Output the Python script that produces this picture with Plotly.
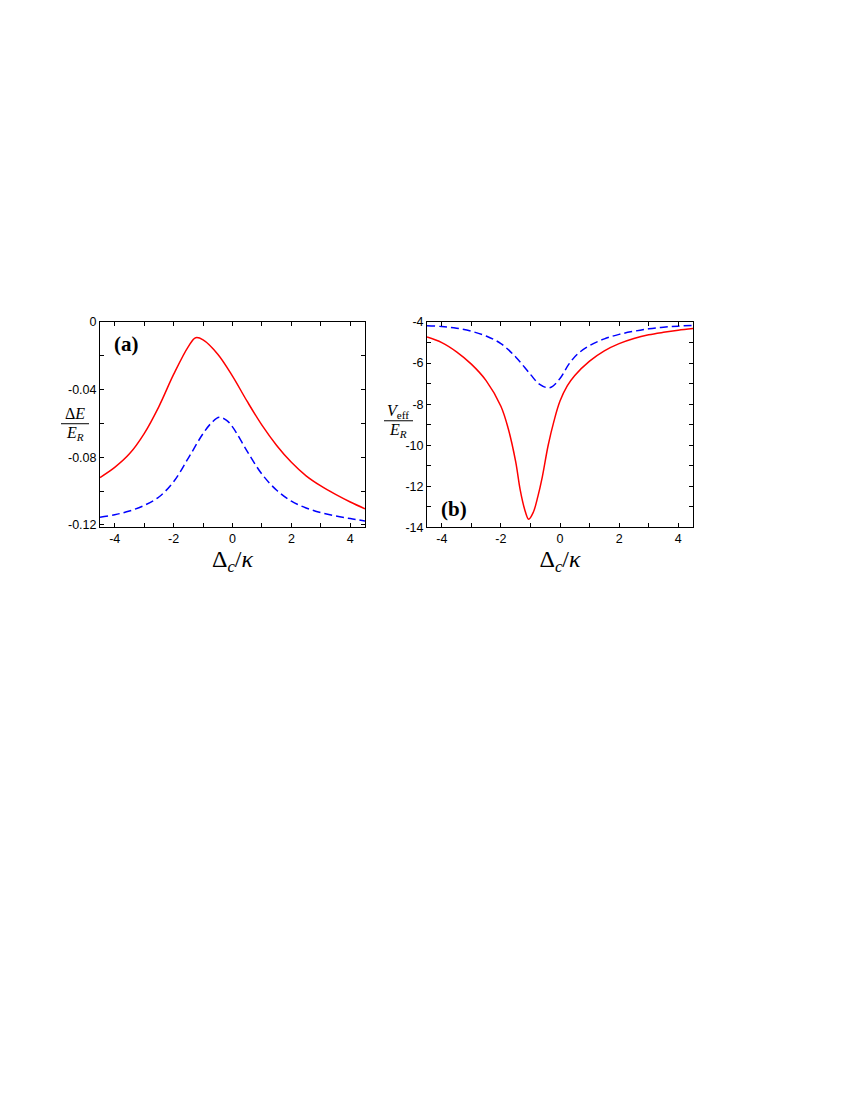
import plotly.graph_objects as go

# ---- Panel (a): Delta E / E_R ----
a_red_x = [-4.5, -4.0, -3.5, -3.0, -2.5, -2.0, -1.5, -1.25, -1.0, -0.5, 0.0, 0.5, 1.0, 1.5, 2.0, 2.5, 3.0, 3.5, 4.0, 4.5]
a_red_y = [-0.092, -0.086, -0.078, -0.066, -0.050, -0.031, -0.0145, -0.0093, -0.0105, -0.019, -0.032, -0.047, -0.061, -0.073, -0.083, -0.091, -0.097, -0.102, -0.1065, -0.1105]
a_blue_x = [-4.5, -4.0, -3.5, -3.0, -2.5, -2.0, -1.5, -1.0, -0.7, -0.45, -0.2, 0.0, 0.5, 1.0, 1.5, 2.0, 2.5, 3.0, 3.5, 4.0, 4.5]
a_blue_y = [-0.1155, -0.1140, -0.1118, -0.1085, -0.1035, -0.0945, -0.0805, -0.0660, -0.0594, -0.0563, -0.0582, -0.0620, -0.0765, -0.0900, -0.0995, -0.1060, -0.1100, -0.1128, -0.1147, -0.1163, -0.1177]

# ---- Panel (b): V_eff / E_R ----
b_red_x = [-4.5, -4.0, -3.5, -3.0, -2.5, -2.0, -1.75, -1.5, -1.35, -1.2, -1.06, -0.9, -0.75, -0.6, -0.4, -0.2, 0.0, 0.25, 0.5, 1.0, 1.5, 2.0, 2.5, 3.0, 3.5, 4.0, 4.5]
b_red_y = [-4.73, -5.0, -5.45, -6.05, -6.85, -8.1, -9.2, -10.8, -12.15, -13.1, -13.6, -13.25, -12.5, -11.55, -10.0, -8.8, -7.85, -7.1, -6.6, -5.9, -5.4, -5.05, -4.8, -4.62, -4.5, -4.4, -4.32]
b_blue_x = [-4.5, -4.0, -3.5, -3.0, -2.5, -2.0, -1.5, -1.0, -0.7, -0.35, 0.0, 0.3, 0.6, 1.0, 1.5, 2.0, 2.5, 3.0, 3.5, 4.0, 4.5]
b_blue_y = [-4.18, -4.22, -4.3, -4.45, -4.68, -5.05, -5.7, -6.55, -7.02, -7.2, -6.75, -6.05, -5.55, -5.15, -4.82, -4.6, -4.45, -4.33, -4.25, -4.2, -4.16]

x_tickvals = [-4, -2, 0, 2, 4]
x_ticktext = ["-4", "-2", "0", "2", "4"]
a_tickvals = [0, -0.04, -0.08, -0.12]
a_ticktext = ["0", "-0.04", "-0.08", "-0.12"]
b_tickvals = [-4, -6, -8, -10, -12, -14]
b_ticktext = ["-4", "-6", "-8", "-10", "-12", "-14"]

RED = "#ff0000"
BLUE = "#0000ff"
DASH = "8px,4px"

fig = go.Figure()
fig.add_trace(go.Scatter(x=a_red_x, y=a_red_y, mode="lines", line=dict(color=RED, width=1.5, shape="spline", smoothing=1.0), xaxis="x", yaxis="y"))
fig.add_trace(go.Scatter(x=a_blue_x, y=a_blue_y, mode="lines", line=dict(color=BLUE, width=1.5, dash=DASH, shape="spline", smoothing=1.0), xaxis="x", yaxis="y"))
fig.add_trace(go.Scatter(x=b_red_x, y=b_red_y, mode="lines", line=dict(color=RED, width=1.5, shape="spline", smoothing=1.0), xaxis="x2", yaxis="y2"))
fig.add_trace(go.Scatter(x=b_blue_x, y=b_blue_y, mode="lines", line=dict(color=BLUE, width=1.5, dash=DASH, shape="spline", smoothing=1.0), xaxis="x2", yaxis="y2"))

W, H = 850, 1100
def px(x):
    return x / W
def py(y):
    return 1 - y / H

tickfont = dict(family="Liberation Sans, Arial, sans-serif", size=12.5, color="black")
titlefont = dict(family="Liberation Serif, Times New Roman, serif", size=24, color="black")

common_axis = dict(showline=True, linecolor="black", linewidth=1, mirror="ticks", ticks="inside",
                   ticklen=4, tickcolor="black", tickwidth=1, showgrid=False, zeroline=False,
                   tickfont=tickfont)

def minor(d):
    return dict(dtick=d, ticks="inside", ticklen=4, tickcolor="black", tickwidth=1, showgrid=False)

ytop, ybot = 311, 519
fig.update_layout(
    width=W, height=H, margin=dict(l=0, r=0, t=0, b=0),
    paper_bgcolor="white", plot_bgcolor="white", showlegend=False,
    xaxis=dict(domain=[px(92), px(357)], range=[-4.5, 4.5], tickmode="array", tickvals=x_tickvals, ticktext=x_ticktext,
               minor=minor(1), anchor="y",
               title=dict(text="Δ<sub><i>c</i></sub>/<i>κ</i>", font=titlefont, standoff=2), **common_axis),
    yaxis=dict(domain=[py(ybot), py(ytop)], range=[-0.1215, 0], tickmode="array", tickvals=a_tickvals, ticktext=a_ticktext,
               minor=minor(0.02), anchor="x", **common_axis),
    xaxis2=dict(domain=[px(419), px(685)], range=[-4.5, 4.5], tickmode="array", tickvals=x_tickvals, ticktext=x_ticktext,
                minor=minor(1), anchor="y2",
                title=dict(text="Δ<sub><i>c</i></sub>/<i>κ</i>", font=titlefont, standoff=2), **common_axis),
    yaxis2=dict(domain=[py(ybot), py(ytop)], range=[-14.0, -4.0], tickmode="array", tickvals=b_tickvals, ticktext=b_ticktext,
                minor=minor(1), anchor="x2", **common_axis),
)

labfont = dict(family="Liberation Serif, Times New Roman, serif", size=16, color="black")
boldfont = dict(family="Liberation Serif, Times New Roman, serif", size=21, color="black")

anns = [
    dict(text="<b>(a)</b>", x=px(118), y=py(333), font=boldfont),
    dict(text="<b>(b)</b>", x=px(446), y=py(500), font=boldfont),
    dict(text="Δ<i>E</i>", x=px(67), y=py(404), font=labfont),
    dict(text="<i>E<sub>R</sub></i>", x=px(67), y=py(424), font=labfont),
    dict(text="<i>V</i><sub>eff</sub>", x=px(390), y=py(402), font=labfont),
    dict(text="<i>E<sub>R</sub></i>", x=px(390), y=py(421), font=labfont),
]
for a in anns:
    fig.add_annotation(xref="paper", yref="paper", showarrow=False, xanchor="center", yanchor="middle", **a)

fig.add_shape(type="line", xref="paper", yref="paper", x0=px(53), x1=px(81), y0=py(414), y1=py(414), line=dict(color="black", width=1))
fig.add_shape(type="line", xref="paper", yref="paper", x0=px(376), x1=px(405), y0=py(411), y1=py(411), line=dict(color="black", width=1))

fig.write_html("out.html")
